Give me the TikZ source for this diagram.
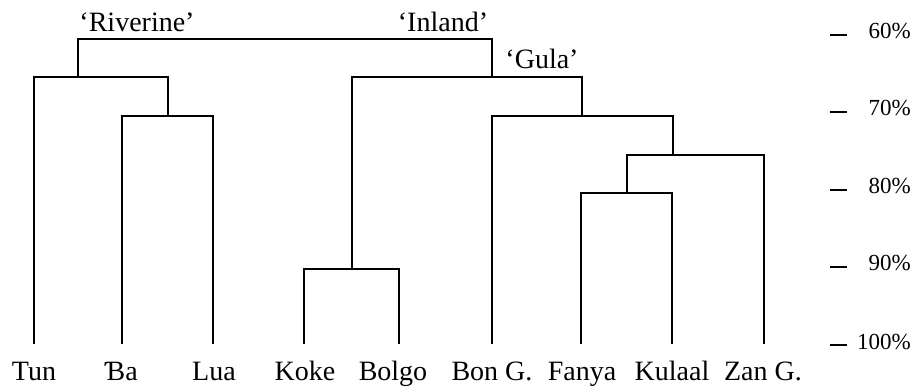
\documentclass[tikz,border=0pt]{standalone}
\usepackage{fontspec}
\setmainfont{Liberation Serif}
\begin{document}
\begin{tikzpicture}[x=1pt,y=-1pt,
  branch/.style={line width=1.7pt,line join=miter},
  leaflabel/.style={anchor=base,inner sep=0pt,font=\fontsize{28}{30}\selectfont},
  grouplabel/.style={anchor=base,inner sep=0pt,font=\fontsize{28}{30}\selectfont},
  scalelabel/.style={anchor=base east,inner sep=0pt,font=\fontsize{23}{25}\selectfont},
  tickmark/.style={line width=1.5pt}]
\useasboundingbox (0,0) rectangle (915,387);
% leaves
\coordinate (tun) at (34,344);
\coordinate (ba) at (122,344);
\coordinate (lua) at (213,344);
\coordinate (koke) at (304,344);
\coordinate (bolgo) at (399,344);
\coordinate (bong) at (492,344);
\coordinate (fanya) at (581,344);
\coordinate (kulaal) at (672,344);
\coordinate (zan) at (764,344);
% joins
\coordinate (jbl) at (168,116);
\coordinate (jriv) at (78,77);
\coordinate (jkb) at (352,269);
\coordinate (jfk) at (627,193);
\coordinate (jfkz) at (673,155);
\coordinate (jgula) at (582,116);
\coordinate (jinl) at (492,77);
\coordinate (jtop) at (285,39);
% branches
\draw[branch] (ba) |- (jbl) -| (lua);
\draw[branch] (tun) |- (jriv) -| (jbl);
\draw[branch] (koke) |- (jkb) -| (bolgo);
\draw[branch] (fanya) |- (jfk) -| (kulaal);
\draw[branch] (jfk) |- (jfkz) -| (zan);
\draw[branch] (bong) |- (jgula) -| (jfkz);
\draw[branch] (jkb) |- (jinl) -| (jgula);
\draw[branch] (jriv) |- (jtop) -| (jinl);
% leaf labels
\node[leaflabel] (ltun) at (34,380) {Tun};
\node[leaflabel] (lba) at (121,380) {Ɓa};
\node[leaflabel] (llua) at (214,380) {Lua};
\node[leaflabel] (lkoke) at (305,380) {Koke};
\node[leaflabel] (lbolgo) at (393,380) {Bolgo};
\node[leaflabel] (lbong) at (492,380) {Bon G.};
\node[leaflabel] (lfanya) at (582,380) {Fanya};
\node[leaflabel] (lkulaal) at (672,380) {Kulaal};
\node[leaflabel] (lzan) at (763,380) {Zan G.};
% group labels
\node[grouplabel] (griv) at (137,32) {‘Riverine’};
\node[grouplabel] (ginl) at (443,32) {‘Inland’};
\node[grouplabel] (ggul) at (542,69) {‘Gula’};
% scale
\foreach \y/\t/\n in {35/60/s60,112/70/s70,190/80/s80,267/90/s90,345/100/s100}{
  \draw[tickmark] (830,\y) -- (847,\y);
  \node[scalelabel] (\n) at (911,\y+4) {\t\%};
}
\end{tikzpicture}
\end{document}
